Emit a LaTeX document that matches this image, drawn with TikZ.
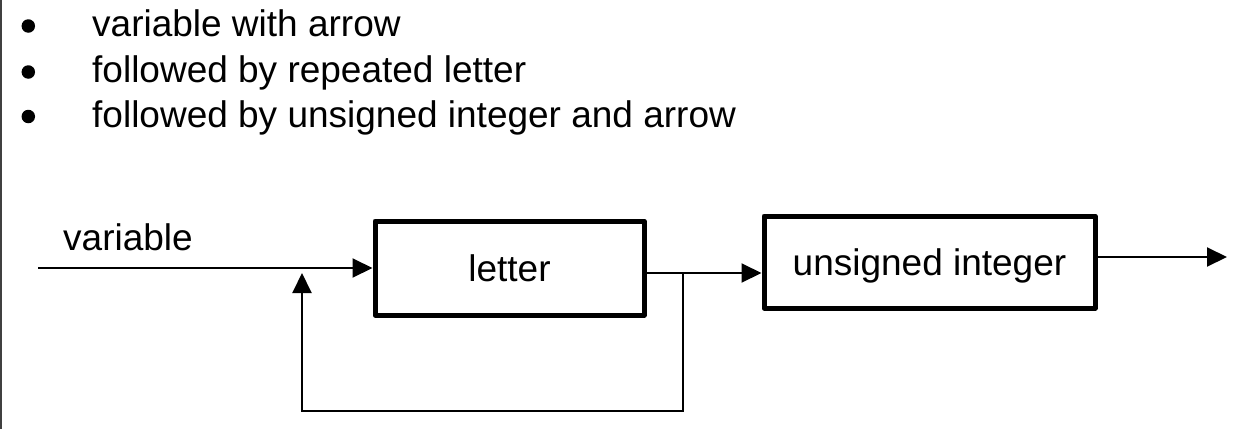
\documentclass[tikz,border=0pt]{standalone}
\usepackage{fontspec}
\setmainfont{Liberation Sans}
\usetikzlibrary{arrows.meta}
\begin{document}
\begin{tikzpicture}[x=1pt,y=-1pt,
  txt/.style={font=\fontsize{37}{44}\selectfont, inner sep=0pt},
  blk/.style={draw, line width=5pt, line join=round, inner sep=0pt,
    font=\fontsize{37}{44}\selectfont},
  con/.style={line width=2pt},
  arr/.style={con, -{Triangle[length=20pt,width=19pt]}},
  dot/.style={fill=black, circle, inner sep=0pt, minimum size=13.5pt}]
\useasboundingbox (0,0) rectangle (1256,429);
\draw[black!75, line width=2.5pt] (1,0) -- (1,429);
% bullets
\node[dot] (b1) at (28.3,26) {};
\node[dot] (b2) at (28.3,72) {};
\node[dot] (b3) at (28.3,116.5) {};
\node[txt, anchor=base west] (t1) at (92,36) {variable with arrow};
\node[txt, anchor=base west] (t2) at (92,82) {followed by repeated letter};
\node[txt, anchor=base west] (t3) at (92,127) {followed by unsigned integer and arrow};
% boxes
\node[blk, minimum width=269pt, minimum height=94pt] (letter) at (509.5,268) {letter};
\node[blk, minimum width=331pt, minimum height=92pt, text depth=0pt] (uint) at (929.5,262) {\raisebox{0pt}[\height][0pt]{unsigned integer}};
% labels
\node[txt, anchor=base west] (var) at (63,250) {variable};
% connectors
\coordinate (start) at (38,268);
\coordinate (branch) at (683,273);
\coordinate (loopbr) at (683,411);
\coordinate (loopbl) at (302,411);
\coordinate (looptip) at (302,273);
\coordinate (out) at (1227,257);
\draw[arr] (start) -- (letter.west);
\draw[arr] (letter.east |- branch) -- (uint.west |- branch);
\draw[arr] (branch) -- (loopbr) -- (loopbl) -- (looptip);
\draw[arr] (uint.east |- out) -- (out);
\end{tikzpicture}
\end{document}
